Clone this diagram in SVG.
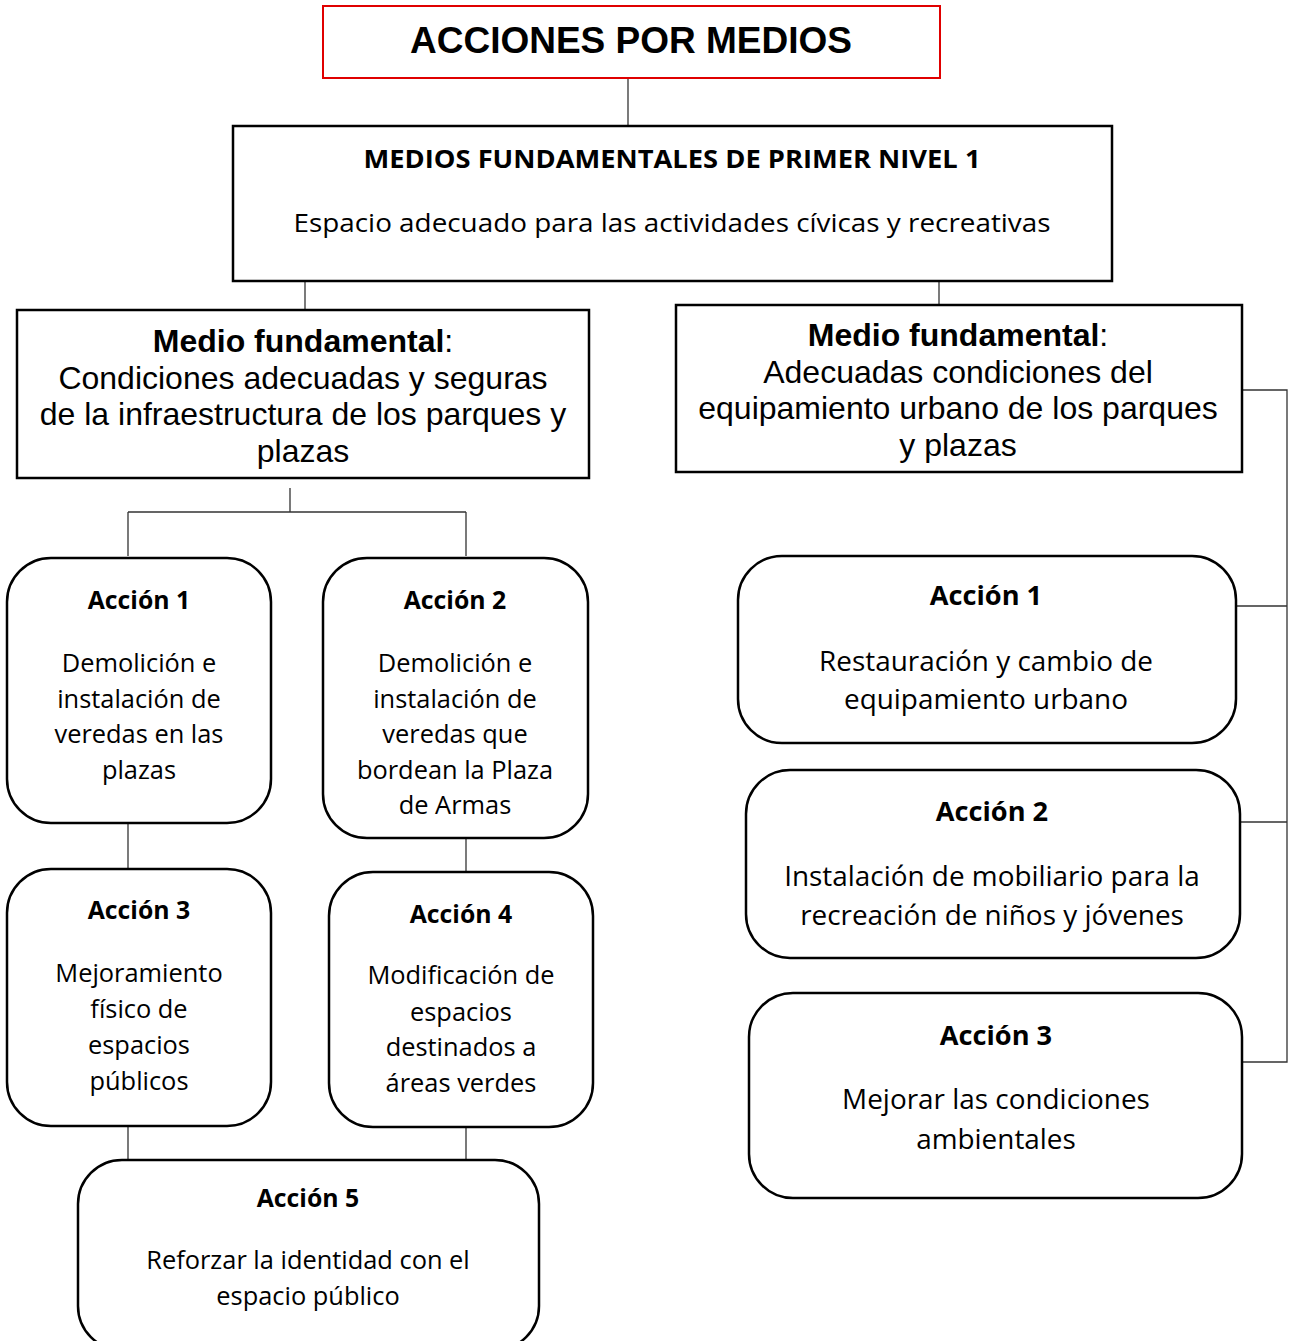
<svg xmlns="http://www.w3.org/2000/svg" width="1290" height="1341" viewBox="0 0 1290 1341">
<style>
.box{fill:#fff;stroke:#000;stroke-width:2.5}
.rbox{fill:#fff;stroke:#000;stroke-width:2.5}
.conn{fill:none;stroke:#333;stroke-width:1.3}
.t{font-family:"Open Sans",sans-serif;font-size:25.4px;fill:#000;text-anchor:middle}
.tr{font-family:"Open Sans",sans-serif;font-size:27.9px;fill:#000;text-anchor:middle}
.b{font-weight:bold}
.tb{font-size:24.8px}
.trb{font-size:27.2px}
.a{font-family:"Liberation Sans",Arial,sans-serif;font-size:32px;fill:#000;text-anchor:middle}
</style>
<rect width="1290" height="1341" fill="#fff"/>
<g id="connectors">
<path class="conn" d="M628 78V126"/>
<path class="conn" d="M305 281V310"/>
<path class="conn" d="M939 281V305"/>
<path class="conn" d="M290 488V512M128 512H466M128 512V556M466 512V556"/>
<path class="conn" d="M128 800V870"/>
<path class="conn" d="M466 827V872"/>
<path class="conn" d="M128 1114V1160M466 1114V1160"/>
<path class="conn" d="M1242 390H1287V1062H1242M1236 606H1287M1240 822H1287"/>
</g>
<g id="title">
<rect x="323" y="6" width="617" height="72" fill="#fff" stroke="#e00000" stroke-width="2"/>
<text x="631" y="53" font-family="Liberation Sans,Arial,sans-serif" font-size="37" font-weight="bold" text-anchor="middle">ACCIONES POR MEDIOS</text>
</g>
<g id="medios">
<rect class="box" x="233" y="126" width="879" height="155"/>
<text class="t b" x="672" y="168" font-size="26" textLength="617" lengthAdjust="spacingAndGlyphs">MEDIOS FUNDAMENTALES DE PRIMER NIVEL 1</text>
<text class="t" x="672" y="232" font-size="27" textLength="757" lengthAdjust="spacingAndGlyphs">Espacio adecuado para las actividades cívicas y recreativas</text>
</g>
<g id="medio-left">
<rect class="box" x="17" y="310" width="572" height="168"/>
<text class="a" x="303" y="352"><tspan font-weight="bold">Medio fundamental</tspan>:</text>
<text class="a" x="303" y="389">Condiciones adecuadas y seguras</text>
<text class="a" x="303" y="425">de la infraestructura de los parques y</text>
<text class="a" x="303" y="462">plazas</text>
</g>
<g id="medio-right">
<rect class="box" x="676" y="305" width="566" height="167"/>
<text class="a" x="958" y="346"><tspan font-weight="bold">Medio fundamental</tspan>:</text>
<text class="a" x="958" y="383">Adecuadas condiciones del</text>
<text class="a" x="958" y="419">equipamiento urbano de los parques</text>
<text class="a" x="958" y="456">y plazas</text>
</g>
<g id="l-accion1">
<rect class="rbox" x="7" y="558" width="264" height="265" rx="44"/>
<text class="t b tb" x="139" y="609">Acción 1</text>
<text class="t" x="139" y="672">Demolición e</text>
<text class="t" x="139" y="708">instalación de</text>
<text class="t" x="139" y="743">veredas en las</text>
<text class="t" x="139" y="779">plazas</text>
</g>
<g id="l-accion2">
<rect class="rbox" x="323" y="558" width="265" height="280" rx="44"/>
<text class="t b tb" x="455" y="609">Acción 2</text>
<text class="t" x="455" y="672">Demolición e</text>
<text class="t" x="455" y="708">instalación de</text>
<text class="t" x="455" y="743">veredas que</text>
<text class="t" x="455" y="779">bordean la Plaza</text>
<text class="t" x="455" y="814">de Armas</text>
</g>
<g id="l-accion3">
<rect class="rbox" x="7" y="869" width="264" height="257" rx="44"/>
<text class="t b tb" x="139" y="919">Acción 3</text>
<text class="t" x="139" y="982">Mejoramiento</text>
<text class="t" x="139" y="1018">físico de</text>
<text class="t" x="139" y="1054">espacios</text>
<text class="t" x="139" y="1090">públicos</text>
</g>
<g id="l-accion4">
<rect class="rbox" x="329" y="872" width="264" height="255" rx="44"/>
<text class="t b tb" x="461" y="923">Acción 4</text>
<text class="t" x="461" y="984">Modificación de</text>
<text class="t" x="461" y="1021">espacios</text>
<text class="t" x="461" y="1056">destinados a</text>
<text class="t" x="461" y="1092">áreas verdes</text>
</g>
<g id="l-accion5">
<rect class="rbox" x="78" y="1160" width="461" height="190" rx="44"/>
<text class="t b tb" x="308" y="1207">Acción 5</text>
<text class="t" x="308" y="1269">Reforzar la identidad con el</text>
<text class="t" x="308" y="1305">espacio público</text>
</g>
<g id="r-accion1">
<rect class="rbox" x="738" y="556" width="498" height="187" rx="44"/>
<text class="tr b trb" x="986" y="605">Acción 1</text>
<text class="tr" x="986" y="671">Restauración y cambio de</text>
<text class="tr" x="986" y="709">equipamiento urbano</text>
</g>
<g id="r-accion2">
<rect class="rbox" x="746" y="770" width="494" height="188" rx="44"/>
<text class="tr b trb" x="992" y="821">Acción 2</text>
<text class="tr" x="992" y="886">Instalación de mobiliario para la</text>
<text class="tr" x="992" y="925">recreación de niños y jóvenes</text>
</g>
<g id="r-accion3">
<rect class="rbox" x="749" y="993" width="493" height="205" rx="44"/>
<text class="tr b trb" x="996" y="1045">Acción 3</text>
<text class="tr" x="996" y="1109">Mejorar las condiciones</text>
<text class="tr" x="996" y="1149">ambientales</text>
</g>
</svg>
